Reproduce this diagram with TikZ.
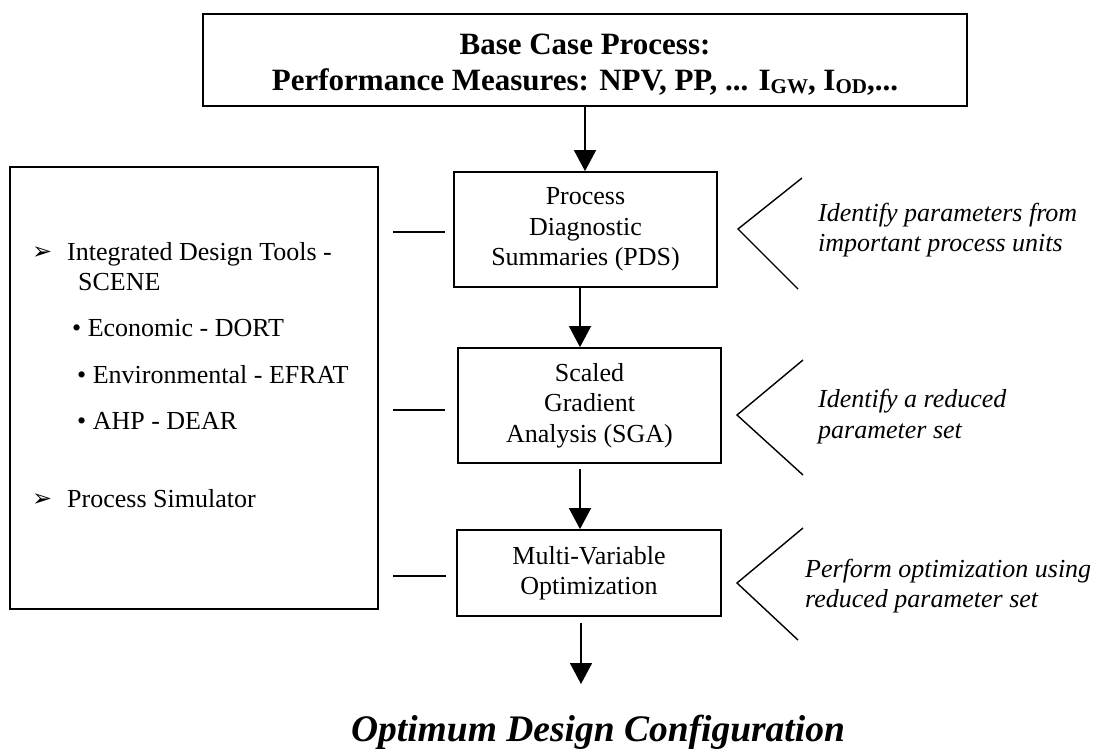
\documentclass[tikz,border=0pt]{standalone}
\usepackage{fontspec}
\setmainfont{Liberation Serif}
\newfontfamily\djv{DejaVu Sans}
\usetikzlibrary{arrows.meta}
\begin{document}
\begin{tikzpicture}[x=1pt,y=-1pt,
  box/.style={draw, line width=1.8pt, inner sep=0pt, align=center},
  arr/.style={line width=1.6pt, -{Triangle[length=21pt,width=22pt]}},
  thinline/.style={line width=1.4pt},
  reg/.style={font=\fontsize{26}{30.5}\selectfont},
  ital/.style={font=\fontsize{26}{30.5}\selectfont\itshape, anchor=base west, inner sep=0pt},
  lft/.style={font=\fontsize{26}{30.5}\selectfont, anchor=base west, inner sep=0pt},
  pointer/.style={font=\djv\fontsize{24}{24}\selectfont, anchor=base west, inner sep=0pt}]
\useasboundingbox (0,0) rectangle (1099,748);

% top box
\node[box, minimum width=764pt, minimum height=92pt, font=\fontsize{31}{36}\selectfont\bfseries] (top) at (585,60)
  {\rule{0pt}{29pt}Base Case Process:\\Performance Measures: NPV, PP, ... I\raisebox{-3pt}{\fontsize{21}{21}\selectfont GW}, I\raisebox{-3pt}{\fontsize{21}{21}\selectfont OD},...};

% left tools box
\node[box, minimum width=368pt, minimum height=442pt] (tools) at (194,388) {};
\node[pointer] (p1) at (32,259) {➢};
\node[lft] (t1) at (67,260) {Integrated Design Tools -};
\node[lft] (t2) at (78,290) {SCENE};
\node[lft] (t3) at (72,336) {• Economic - DORT};
\node[lft] (t4) at (77,383) {• Environmental - EFRAT};
\node[lft] (t5) at (77,429) {• AHP - DEAR};
\node[pointer] (p2) at (32,506) {➢};
\node[lft] (t6) at (67,507) {Process Simulator};

% process boxes
\node[box, reg, minimum width=263pt, minimum height=115pt] (pds) at (585.5,229.5) {Process\\Diagnostic\\Summaries (PDS)};
\node[box, reg, minimum width=263pt, minimum height=115pt] (sga) at (589.5,405.5) {Scaled\\Gradient\\Analysis (SGA)};
\node[box, reg, minimum width=264pt, minimum height=86pt] (mvo) at (589,573) {Multi-Variable\\Optimization};

% final result
\node[anchor=base, inner sep=0pt, font=\fontsize{37.5}{40}\selectfont\bfseries\itshape] (fin) at (598,741) {Optimum Design Configuration};

% arrows
\coordinate (ax) at (580,0);
\coordinate (endtip) at (581,684);
\draw[arr] (top.south) -- (top.south |- pds.north);
\draw[arr] (pds.south -| ax) -- (sga.north -| ax);
\draw[arr, shorten <=5pt] (sga.south -| ax) -- (mvo.north -| ax);
\draw[arr, shorten <=6pt] (mvo.south -| endtip) -- (endtip);

% links from tools box
\coordinate (h1a) at (393,232); \coordinate (h1b) at (445,232);
\coordinate (h2a) at (393,410); \coordinate (h2b) at (445,410);
\coordinate (h3a) at (393,576); \coordinate (h3b) at (446,576);
\draw[thinline] (h1a) -- (h1b);
\draw[thinline] (h2a) -- (h2b);
\draw[thinline] (h3a) -- (h3b);

% chevrons
\draw[thinline] (802,178) -- (738,229) -- (798,289);
\draw[thinline] (803,360) -- (737,415) -- (803,475);
\draw[thinline] (803,528) -- (737,583) -- (798,640);

% right notes
\node[ital] (r1a) at (818,221) {Identify parameters from};
\node[ital] (r1b) at (818,251) {important process units};
\node[ital] (r2a) at (818,407) {Identify a reduced};
\node[ital] (r2b) at (818,438) {parameter set};
\node[ital] (r3a) at (805,577) {Perform optimization using};
\node[ital] (r3b) at (805,607) {reduced parameter set};
\end{tikzpicture}
\end{document}
